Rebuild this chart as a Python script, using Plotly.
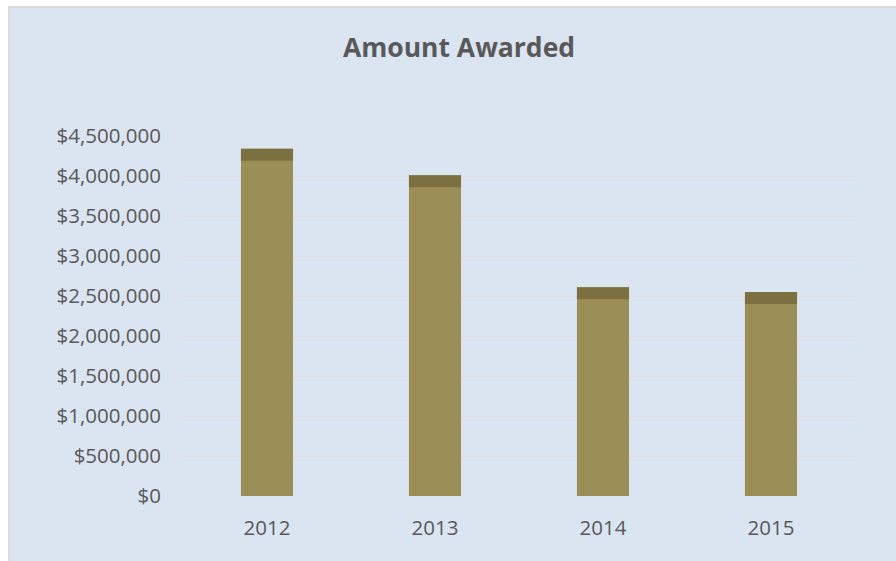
import plotly.graph_objects as go

years = ["2012", "2013", "2014", "2015"]
amount_awarded = [4340000, 4010000, 2610000, 2550000]
tick_values = [0, 500000, 1000000, 1500000, 2000000, 2500000, 3000000, 3500000, 4000000, 4500000]
tick_labels = ["$0", "$500,000", "$1,000,000", "$1,500,000", "$2,000,000", "$2,500,000",
               "$3,000,000", "$3,500,000", "$4,000,000", "$4,500,000"]

CAP = 150000  # depth of the darker top face (visual 3D effect)

BG = "#dbe5f1"
TXT = "#595959"

fig = go.Figure()
fig.add_trace(go.Bar(
    x=years, y=amount_awarded, marker=dict(color="#9b8e57", line=dict(width=0)),
    width=0.31, hoverinfo="y", showlegend=False))
fig.add_trace(go.Bar(
    x=years, y=[CAP] * len(years), base=[v - CAP for v in amount_awarded],
    marker=dict(color="#7c7040", line=dict(width=0)),
    width=0.31, hoverinfo="skip", showlegend=False))

W, H = 896, 561
L, R, T, B = 183, 41, 136, 65
pw, ph = W - L - R, H - T - B

def px(x):
    return (x - L) / pw

def py(y):
    return (H - B - y) / ph

shapes = [
    dict(type="rect", xref="paper", yref="paper", x0=px(0), x1=px(W), y0=py(0), y1=py(6),
         fillcolor="white", line=dict(width=0), layer="below"),
    dict(type="rect", xref="paper", yref="paper", x0=px(0), x1=px(8), y0=py(0), y1=py(H),
         fillcolor="white", line=dict(width=0), layer="below"),
    dict(type="rect", xref="paper", yref="paper", x0=px(8), x1=px(W), y0=py(6), y1=py(8),
         fillcolor="#d9d9d9", line=dict(width=0), layer="below"),
    dict(type="rect", xref="paper", yref="paper", x0=px(8), x1=px(10), y0=py(6), y1=py(H),
         fillcolor="#d9d9d9", line=dict(width=0), layer="below"),
]

fig.update_layout(
    width=W, height=H,
    margin=dict(l=L, r=R, t=T, b=B, pad=0),
    paper_bgcolor=BG, plot_bgcolor=BG,
    barmode="overlay",
    title=dict(text="<b>Amount Awarded</b>", x=459 / W, xanchor="center",
               y=1 - 48 / H, yanchor="middle",
               font=dict(family="Open Sans", size=26.5, color=TXT)),
    font=dict(family="Open Sans", color=TXT),
    shapes=shapes,
    xaxis=dict(showgrid=False, showline=False, zeroline=False, ticks="",
               tickfont=dict(size=20.5, color=TXT), ticklabelstandoff=17),
    yaxis=dict(range=[0, 4500000], tickvals=tick_values, ticktext=tick_labels,
               showgrid=True, gridcolor="#e6dcdf", gridwidth=1,
               zeroline=False, showline=False, ticks="",
               tickfont=dict(size=20.5, color=TXT), ticklabelstandoff=21),
)

fig.write_html(
    "out.html",
    config={"displayModeBar": False},
    post_script="document.body.style.margin='0';document.body.style.overflow='hidden';",
)
